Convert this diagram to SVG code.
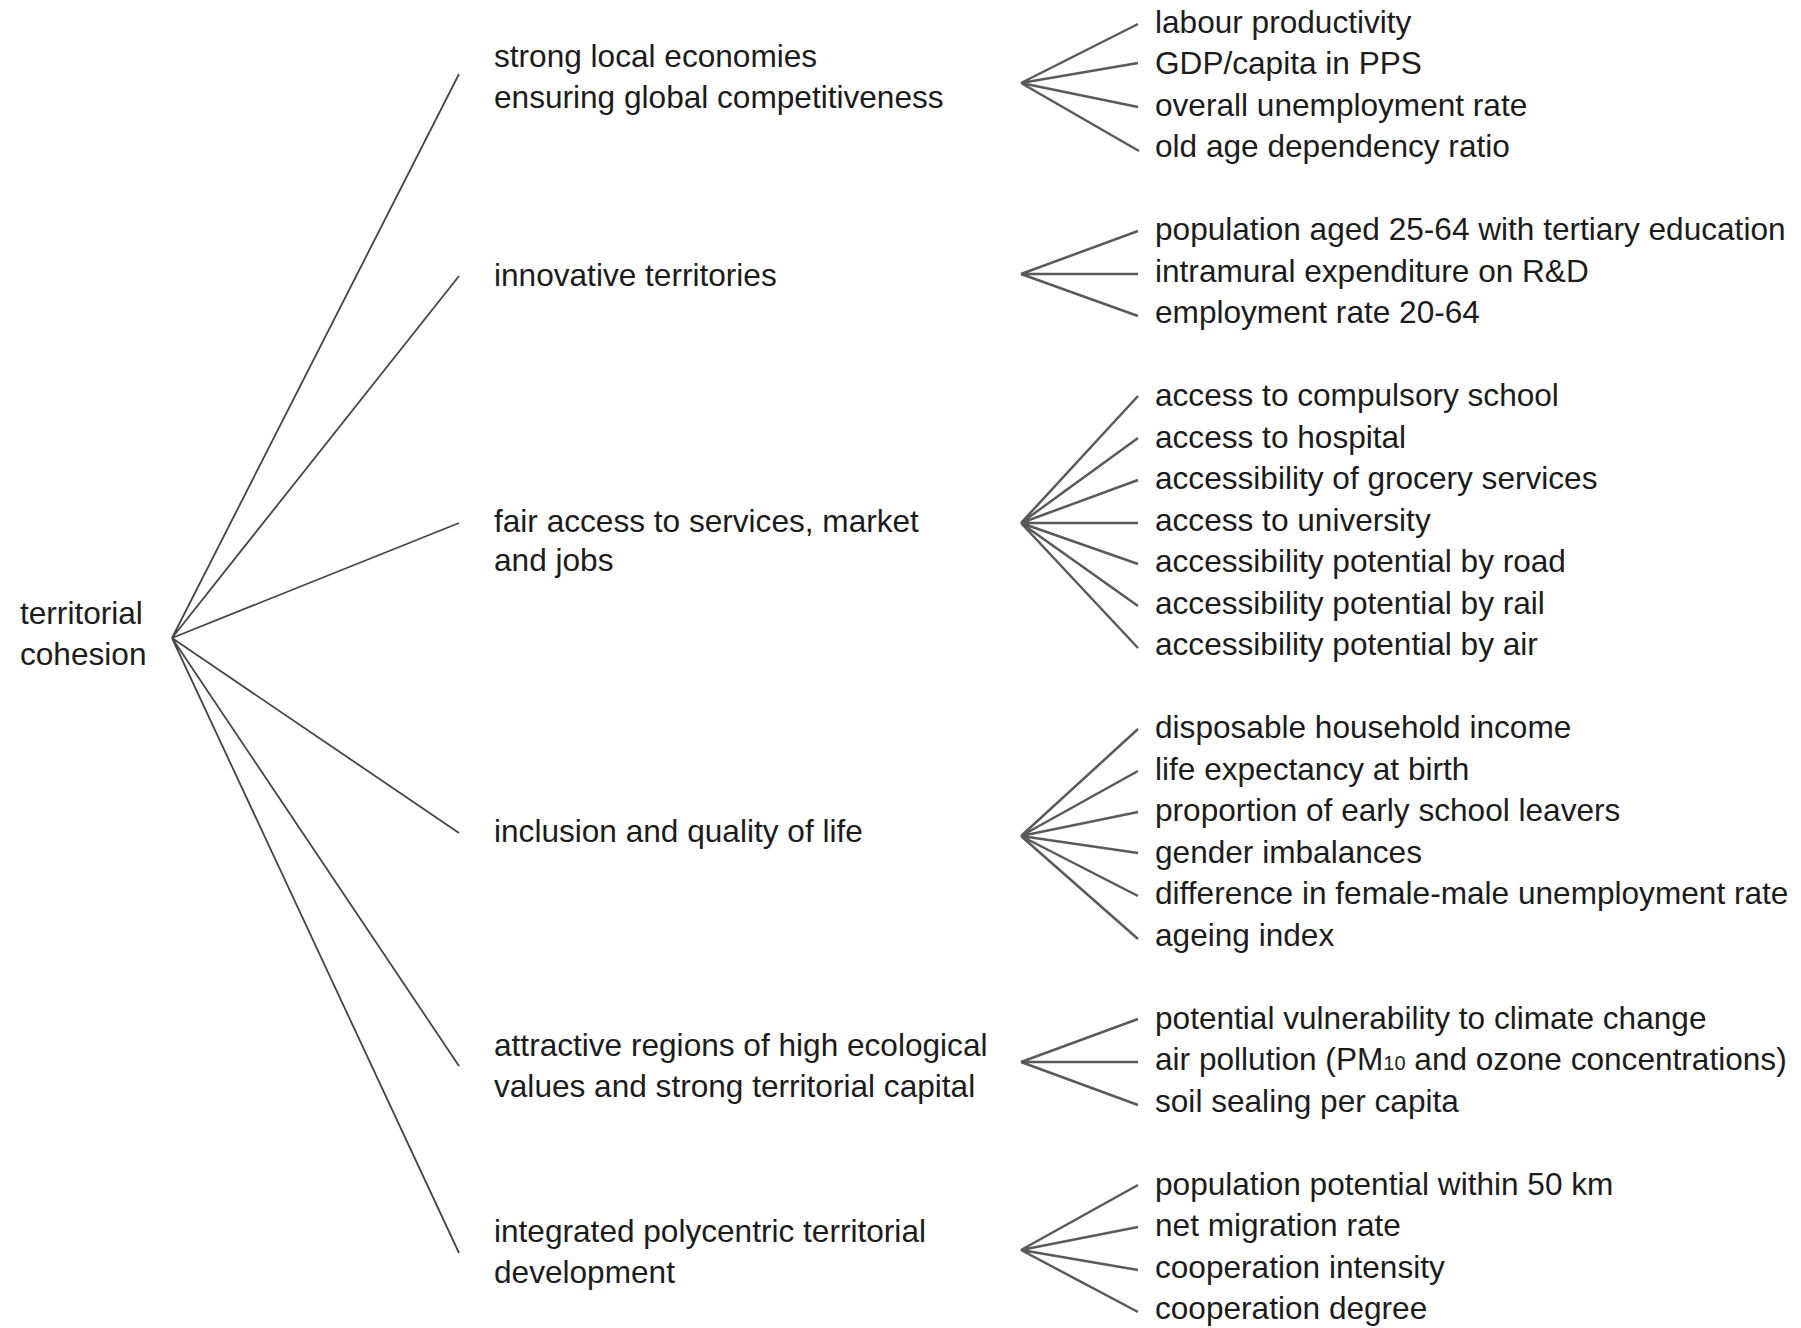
<svg xmlns="http://www.w3.org/2000/svg" width="1801" height="1328" viewBox="0 0 1801 1328">
<style>
text{font-family:"Liberation Sans",Arial,sans-serif;font-size:31.6px;fill:#1c1c1c}
.l1{stroke:#464646;stroke-width:1.8;fill:none}
.l2{stroke:#5a5a5a;stroke-width:2.5;fill:none}
.sub{font-size:20px}
</style>
<rect width="1801" height="1328" fill="#fff"/>
<g id="connectors">
<path class="l1" d="M172 638L459 74M172 638L459 276M172 638L459 523M172 638L459 833M172 638L459 1066M172 638L459 1253"/>
<path class="l2" d="M1021 83L1138 24M1021 83L1138 63M1021 83L1138 107M1021 83L1139 151"/>
<path class="l2" d="M1021 274L1138 231M1021 274L1138 274M1021 274L1138 316"/>
<path class="l2" d="M1021 523L1138 396M1021 523L1138 438M1021 523L1138 480M1021 523L1138 523M1021 523L1138 564M1021 523L1138 606M1021 523L1138 648"/>
<path class="l2" d="M1021 836L1138 729M1021 836L1138 771M1021 836L1138 812M1021 836L1138 853M1021 836L1138 896M1021 836L1138 939"/>
<path class="l2" d="M1021 1062L1138 1019M1021 1062L1138 1062M1021 1062L1138 1105"/>
<path class="l2" d="M1021 1250L1138 1185M1021 1250L1138 1227M1021 1250L1138 1270M1021 1250L1138 1312"/>
</g>
<g id="root"><text x="20" y="624">territorial</text><text x="20" y="665">cohesion</text></g>
<g id="n1"><text x="494" y="67">strong local economies</text><text x="494" y="108">ensuring global competitiveness</text></g>
<g id="n2"><text x="494" y="286">innovative territories</text></g>
<g id="n3"><text x="494" y="532">fair access to services, market</text><text x="494" y="571">and jobs</text></g>
<g id="n4"><text x="494" y="842">inclusion and quality of life</text></g>
<g id="n5"><text x="494" y="1056">attractive regions of high ecological</text><text x="494" y="1097">values and strong territorial capital</text></g>
<g id="n6"><text x="494" y="1242">integrated polycentric territorial</text><text x="494" y="1283">development</text></g>
<g id="i1">
<text x="1155" y="32.5">labour productivity</text>
<text x="1155" y="74">GDP/capita in PPS</text>
<text x="1155" y="115.5">overall unemployment rate</text>
<text x="1155" y="157">old age dependency ratio</text>
</g>
<g id="i2">
<text x="1155" y="240">population aged 25-64 with tertiary education</text>
<text x="1155" y="281.5">intramural expenditure on R&amp;D</text>
<text x="1155" y="323">employment rate 20-64</text>
</g>
<g id="i3">
<text x="1155" y="406">access to compulsory school</text>
<text x="1155" y="447.5">access to hospital</text>
<text x="1155" y="489">accessibility of grocery services</text>
<text x="1155" y="530.5">access to university</text>
<text x="1155" y="572">accessibility potential by road</text>
<text x="1155" y="613.5">accessibility potential by rail</text>
<text x="1155" y="655">accessibility potential by air</text>
</g>
<g id="i4">
<text x="1155" y="738">disposable household income</text>
<text x="1155" y="779.5">life expectancy at birth</text>
<text x="1155" y="821">proportion of early school leavers</text>
<text x="1155" y="862.5">gender imbalances</text>
<text x="1155" y="904">difference in female-male unemployment rate</text>
<text x="1155" y="945.5">ageing index</text>
</g>
<g id="i5">
<text x="1155" y="1028.5">potential vulnerability to climate change</text>
<text x="1155" y="1070">air pollution (PM<tspan class="sub">10</tspan> and ozone concentrations)</text>
<text x="1155" y="1111.5">soil sealing per capita</text>
</g>
<g id="i6">
<text x="1155" y="1194.5">population potential within 50 km</text>
<text x="1155" y="1236">net migration rate</text>
<text x="1155" y="1277.5">cooperation intensity</text>
<text x="1155" y="1319">cooperation degree</text>
</g>
</svg>
